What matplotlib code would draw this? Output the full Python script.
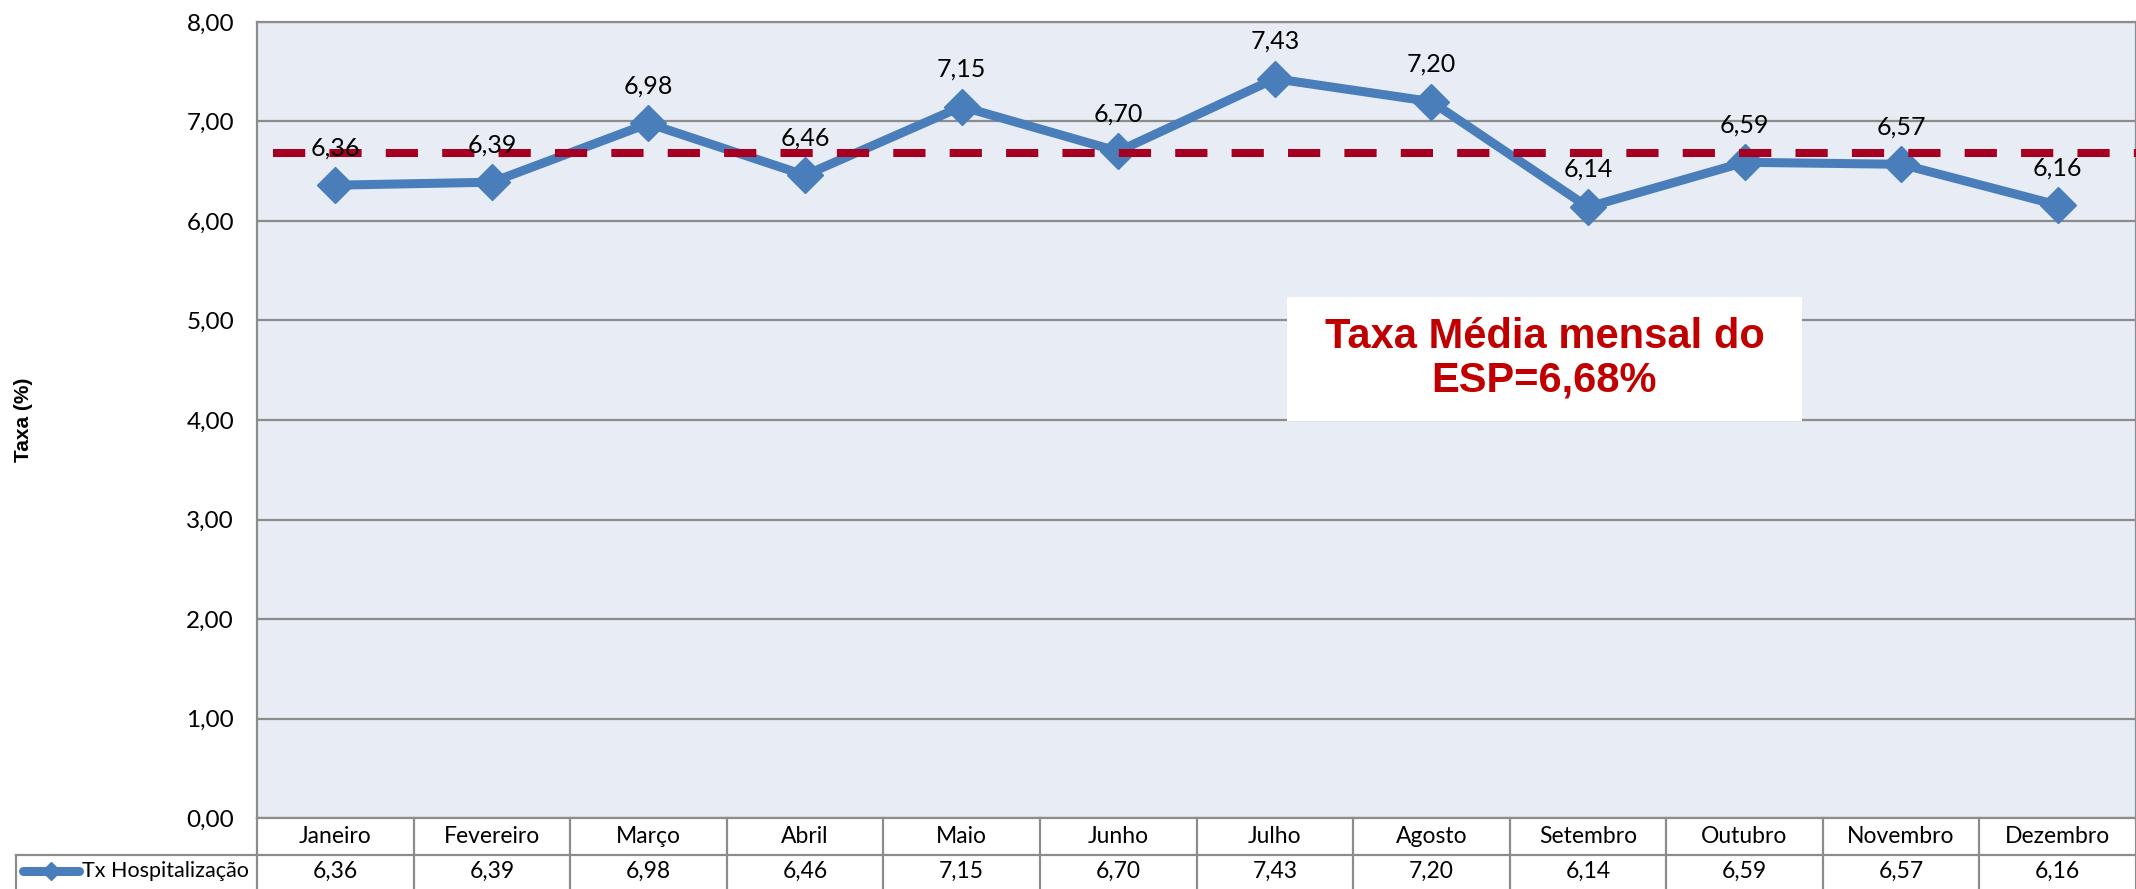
import matplotlib
matplotlib.use("Agg")
import matplotlib.pyplot as plt
from matplotlib.lines import Line2D
from matplotlib.patches import Rectangle
import matplotlib.transforms as mtransforms

months = ["Janeiro", "Fevereiro", "Março", "Abril", "Maio", "Junho",
          "Julho", "Agosto", "Setembro", "Outubro", "Novembro", "Dezembro"]
values = [6.36, 6.39, 6.98, 6.46, 7.15, 6.70, 7.43, 7.20, 6.14, 6.59, 6.57, 6.16]
mean_value = 6.68
series_name = "Tx Hospitalização"
y_ticks = [0, 1, 2, 3, 4, 5, 6, 7, 8]
annotation = "Taxa Média mensal do\nESP=6,68%"

def fmt(v):
    return f"{v:.2f}".replace(".", ",")

BLUE = "#4A7EBB"
RED = "#A50021"
GRID = "#8C8C8C"
BG = "#E8EDF5"
FONT = "Lato"

W, H = 2136, 889
fig = plt.figure(figsize=(W / 100, H / 100), dpi=100)
left, right, top, bottom = 257, 2136, 22, 818
ax = fig.add_axes([left / W, 1 - bottom / H, (right - left) / W, (bottom - top) / H])
ax.set_facecolor(BG)
aw = right - left
ah = bottom - top

x = list(range(len(months)))
ax.set_xlim(-0.5, len(months) - 0.5)
ax.set_ylim(0, 8)
ax.set_yticks(y_ticks)
ax.set_yticklabels([fmt(t) for t in y_ticks], fontsize=17.5, fontname=FONT)
ax.tick_params(axis="y", length=0, pad=16.5)
ax.set_xticks([])
ax.grid(axis="y", color=GRID, linewidth=1.6)
ax.set_axisbelow(True)
for s in ax.spines.values():
    s.set_color(GRID)
    s.set_linewidth(1.6)

ax.plot(x, values, color=BLUE, linewidth=6.5, marker="D", markersize=18,
        markeredgecolor=BLUE, markerfacecolor=BLUE, zorder=3, solid_capstyle="butt")

# mean dashed line
ax.plot([-0.4, len(months) - 0.5], [mean_value, mean_value], color=RED,
        linewidth=5.8, dashes=(4, 3), zorder=4, solid_capstyle="butt",
        dash_capstyle="butt")

for xi, v in zip(x, values):
    ax.annotate(fmt(v), (xi, v), xytext=(0, 27), textcoords="offset points",
                ha="center", va="center", fontsize=18, fontname=FONT, zorder=5)

ax.set_ylabel("Taxa (%)", fontsize=15, fontweight="bold", fontname="Liberation Sans",
              labelpad=0)
ax.yaxis.set_label_coords(-(left - 33) / aw, (bottom - 420) / ah)

# annotation box
bx0, bx1 = (1287 - left) / aw, (1802 - left) / aw
by0, by1 = (bottom - 421) / ah, (bottom - 297) / ah
ax.add_patch(Rectangle((bx0, by0), bx1 - bx0, by1 - by0, transform=ax.transAxes,
                       facecolor="white", edgecolor="none", zorder=6))
ax.text((bx0 + bx1) / 2, (by0 + by1) / 2, annotation, transform=ax.transAxes,
        ha="center", va="center", color="#C00000",
        fontsize=30, fontweight="bold", fontname="Liberation Sans", linespacing=1.12,
        zorder=7)

# data table below axes
trans = mtransforms.blended_transform_factory(ax.transData, ax.transAxes)
r1 = -37 / ah
r2 = -76 / ah
xl_leg = (16 - left) / aw
ta = ax.transAxes
lines = []
lines.append(Line2D([0, 1], [r1, r1], transform=ta))
lines.append(Line2D([xl_leg, 0], [r1, r1], transform=ta))
lines.append(Line2D([xl_leg, 1], [r2, r2], transform=ta))
lines.append(Line2D([xl_leg, xl_leg], [r1, r2], transform=ta))
lines.append(Line2D([0, 0], [0, r2], transform=ta))
for i in range(1, len(months) + 1):
    lines.append(Line2D([i - 0.5, i - 0.5], [0, r2], transform=trans))
for ln in lines:
    ln.set_color(GRID)
    ln.set_linewidth(1.6)
    ln.set_clip_on(False)
    ax.add_line(ln)

ymid = (r1 + r2) / 2 + 0.004
for xi, m, v in zip(x, months, values):
    ax.text(xi, r1 / 2, m, transform=trans, ha="center", va="center",
            fontsize=16.5, fontname=FONT, clip_on=False)
    ax.text(xi, ymid, fmt(v), transform=trans, ha="center",
            va="center", fontsize=16.5, fontname=FONT, clip_on=False)

# legend key in table
kx0 = (23 - left) / aw
kx1 = (79 - left) / aw
key = Line2D([kx0, kx1], [ymid, ymid], transform=ta, color=BLUE, linewidth=6.5,
             clip_on=False, solid_capstyle="round")
ax.add_line(key)
keym = Line2D([(kx0 + kx1) / 2], [ymid], transform=ta, color=BLUE, marker="D",
              markersize=9, clip_on=False)
ax.add_line(keym)
ax.text((82 - left) / aw, ymid, series_name, transform=ta, ha="left",
        va="center", fontsize=15.5, fontname=FONT, clip_on=False)

fig.savefig("out.png", dpi=100, facecolor="white")
